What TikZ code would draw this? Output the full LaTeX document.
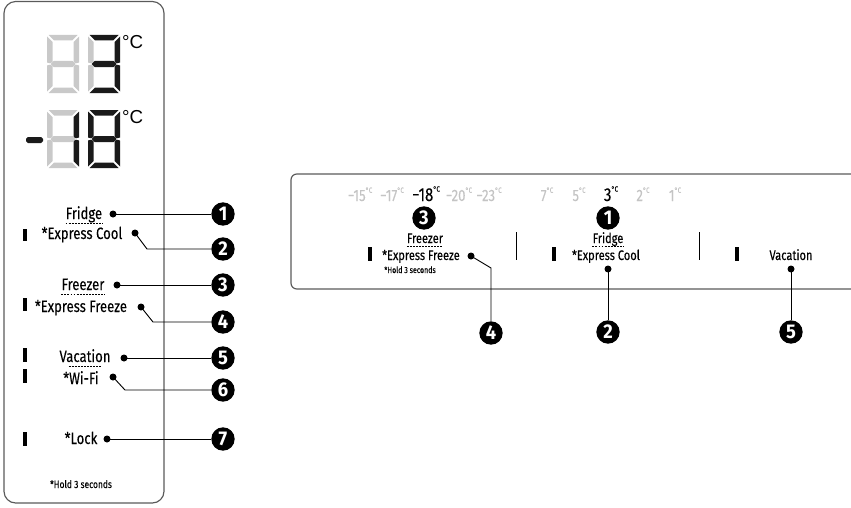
\documentclass[tikz,border=0pt]{standalone}
\usepackage{fontspec}
\setmainfont{Fira Sans}[FakeStretch=0.8, FakeBold=0.12]
\newfontfamily\unitfont{Liberation Sans}
\newfontfamily\calloutfont{Fira Sans}[FakeStretch=0.92]
\usetikzlibrary{positioning}

\definecolor{segon}{HTML}{1A1A1A}
\definecolor{segoff}{HTML}{C9C9C9}
\definecolor{panelgray}{HTML}{5A5A5A}
\definecolor{tempgray}{HTML}{C4C4C4}

% seven segment digit: #1 = top left corner, #2..#8 = colours of segments a..g
\newcommand{\segdigit}[8]{%
  \begin{scope}[shift={(#1)}]
    \fill[#2] (1.5,0) -- (30.5,0) -- (25,5.5) -- (7,5.5) -- cycle;
    \fill[#3] (32,1.5) -- (32,27.5) -- (29,28.3) -- (26.5,27) -- (26.5,7) -- cycle;
    \fill[#4] (32,30.5) -- (32,56.5) -- (26.5,51) -- (26.5,31) -- (29,29.7) -- cycle;
    \fill[#5] (1.5,58) -- (30.5,58) -- (25,52.5) -- (7,52.5) -- cycle;
    \fill[#6] (0,30.5) -- (0,56.5) -- (5.5,51) -- (5.5,31) -- (3,29.7) -- cycle;
    \fill[#7] (0,1.5) -- (0,27.5) -- (3,28.3) -- (5.5,27) -- (5.5,7) -- cycle;
    \fill[#8] (3.5,29) -- (6.5,26) -- (25.5,26) -- (28.5,29) -- (25.5,32) -- (6.5,32) -- cycle;
  \end{scope}}

\newcommand{\degsup}{\raisebox{0.5em}{\fontsize{6.5}{6.5}\selectfont °C}}

\tikzset{
  panel/.style={draw=panelgray, line width=1pt},
  callout/.style={circle, fill=black, text=white, inner sep=0pt, minimum size=0.7cm,
    font=\calloutfont\bfseries\fontsize{17}{17}\selectfont},
  leaddot/.style={circle, fill=black, inner sep=0pt, minimum size=0.21cm},
  lead/.style={line width=0.8pt},
  dotline/.style={line width=0.7pt, dash pattern=on 1.6pt off 1pt},
  bar/.style={fill=black},
  lbl/.style={inner sep=0pt, anchor=base, font=\fontsize{14}{15}\selectfont},
  lblr/.style={inner sep=0pt, anchor=base, font=\fontsize{11.8}{13}\selectfont},
  holdnote/.style={inner sep=0pt, anchor=base},
  tempoff/.style={inner sep=0pt, anchor=base, text=tempgray, font=\fontsize{14}{15}\selectfont},
  tempon/.style={inner sep=0pt, anchor=base, text=black, font=\fontsize{16}{17}\selectfont},
  unit/.style={inner sep=0pt, anchor=north west, font=\unitfont\fontsize{16}{16}\selectfont},
}

\begin{document}
\begin{tikzpicture}[x=0.03cm, y=-0.03cm]
  \useasboundingbox (0,0) rectangle (851,507);
  \clip (0,0) rectangle (851,507);

  % display panel on the left
  \draw[panel, rounded corners=10pt] (4,1.5) rectangle (164,503);

  \segdigit{47,35}{segoff}{segoff}{segoff}{segoff}{segoff}{segoff}{segoff}
  \segdigit{88,35}{segon}{segon}{segon}{segon}{segoff}{segoff}{segon}
  \node[unit] (degfr) at (122,35) {°C};

  \fill[segon, rounded corners=1.5pt] (26,137) rectangle (43,143);
  \segdigit{47,110}{segoff}{segon}{segon}{segoff}{segoff}{segoff}{segoff}
  \segdigit{88,110}{segon}{segon}{segon}{segon}{segon}{segon}{segon}
  \node[unit] (degfz) at (122,110) {°C};

  \node[lbl] (fridge) at (84,219) {Fridge};
  \node[lbl] (xcool) at (82,239) {*Express Cool};
  \node[lbl] (freezer) at (83,290) {Freezer};
  \node[lbl] (xfreeze) at (81,312) {*Express Freeze};
  \node[lbl] (vacation) at (85,362) {Vacation};
  \node[lbl] (wifi) at (81,384) {*Wi-Fi};
  \node[lbl] (lock) at (81,444) {*Lock};
  \node[holdnote, font=\fontsize{9}{10}\selectfont] (hold) at (81,488) {*Hold 3 seconds};

  \draw[dotline] ([yshift=-3.5pt]fridge.base west) -- ([yshift=-3.5pt]fridge.base east);
  \draw[dotline] ([yshift=-3.5pt]freezer.base west) -- ([yshift=-3.5pt]freezer.base east);
  \draw[dotline, shorten <=8pt, shorten >=8pt] ([yshift=-3.5pt]vacation.base west) -- ([yshift=-3.5pt]vacation.base east);

  \fill[bar] (23,229) rectangle (26.5,241);
  \fill[bar] (23,298) rectangle (26.5,311);
  \fill[bar] (23,348) rectangle (26.5,362);
  \fill[bar] (23,369) rectangle (26.5,383);
  \fill[bar] (23,432) rectangle (26.5,446);

  \node[leaddot] (dl1) at (113,214) {};
  \node[leaddot] (dl2) at (135,233) {};
  \node[leaddot] (dl3) at (117,285) {};
  \node[leaddot] (dl4) at (141,307) {};
  \node[leaddot] (dl5) at (124,358) {};
  \node[leaddot] (dl6) at (113,377) {};
  \node[leaddot] (dl7) at (107,439) {};

  \node[callout] (cl1) at (223,214) {1};
  \node[callout] (cl2) at (223,249) {2};
  \node[callout] (cl3) at (223,285) {3};
  \node[callout] (cl4) at (223,322) {4};
  \node[callout] (cl5) at (223,358) {5};
  \node[callout] (cl6) at (223,390) {6};
  \node[callout] (cl7) at (223,439) {7};

  \coordinate (bl2) at (147,249);
  \coordinate (bl4) at (153,322);
  \coordinate (bl6) at (125,390);

  \draw[lead] (dl1.center) -- (cl1);
  \draw[lead] (dl2.center) -- (bl2) -- (cl2);
  \draw[lead] (dl3.center) -- (cl3);
  \draw[lead] (dl4.center) -- (bl4) -- (cl4);
  \draw[lead] (dl5.center) -- (cl5);
  \draw[lead] (dl6.center) -- (bl6) -- (cl6);
  \draw[lead] (dl7.center) -- (cl7);

  % control panel on the right
  \draw[panel, rounded corners=5pt] (291,174) rectangle (880,289);

  \node[tempoff] (fz15) at (360,201) {−15\degsup};
  \node[tempoff] (fz17) at (392,201) {−17\degsup};
  \node[tempon] (fz18) at (426,201) {−18\degsup};
  \node[tempoff] (fz20) at (459,201) {−20\degsup};
  \node[tempoff] (fz23) at (489,201) {−23\degsup};

  \node[tempoff] (fr7) at (547,201) {7\degsup};
  \node[tempoff] (fr5) at (579,201) {5\degsup};
  \node[tempon] (fr3) at (611,201) {3\degsup};
  \node[tempoff] (fr2) at (643,201) {2\degsup};
  \node[tempoff] (fr1) at (675,201) {1\degsup};

  \node[callout] (cr3) at (424,218) {3};
  \node[callout] (cr1) at (608,218) {1};

  \node[lblr] (rfreezer) at (425,243) {Freezer};
  \node[lblr] (rxfreeze) at (421,260) {*Express Freeze};
  \node[holdnote, font=\fontsize{7.5}{8}\selectfont] (rhold) at (410,273) {*Hold 3 seconds};
  \node[lblr] (rfridge) at (608,243) {Fridge};
  \node[lblr] (rxcool) at (606,260) {*Express Cool};
  \node[lblr] (rvacation) at (791,260) {Vacation};

  \draw[dotline] ([yshift=-2.5pt]rfreezer.base west) -- ([yshift=-2.5pt]rfreezer.base east);
  \draw[dotline] ([yshift=-3pt]rfridge.base west) -- ([yshift=-3pt]rfridge.base east);

  \draw[line width=0.8pt] (516,232) -- (516,260);
  \draw[line width=0.8pt] (699,232) -- (699,260);

  \fill[bar] (368,247) rectangle (372,261);
  \fill[bar] (552,247) rectangle (555.5,261);
  \fill[bar] (735,247) rectangle (738.5,261);

  \node[leaddot] (dr4) at (471,256) {};
  \node[leaddot] (dr2) at (608,269) {};
  \node[leaddot] (dr5) at (791,269) {};

  \node[callout] (cr4) at (491,333) {4};
  \node[callout] (cr2) at (608,332) {2};
  \node[callout] (cr5) at (791,332) {5};

  \coordinate (br4) at (491,268);

  \draw[lead] (dr4.center) -- (br4) -- (cr4);
  \draw[lead] (dr2.center) -- (cr2);
  \draw[lead] (dr5.center) -- (cr5);
\end{tikzpicture}
\end{document}
